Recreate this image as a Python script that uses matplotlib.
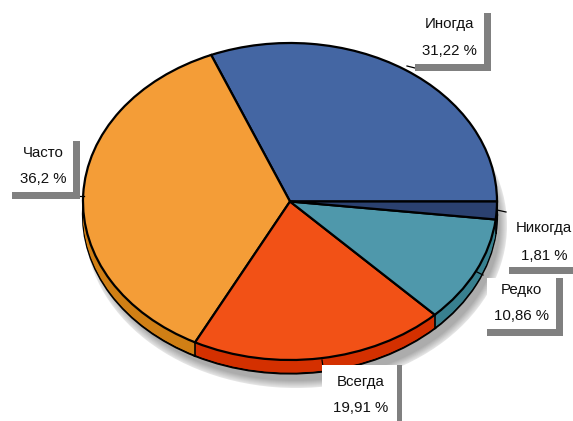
import matplotlib
matplotlib.use('Agg')
import matplotlib.pyplot as plt
from matplotlib.patches import Ellipse, Rectangle
import numpy as np

categories = ['Иногда', 'Часто', 'Всегда', 'Редко', 'Никогда']
values = [31.22, 36.2, 19.91, 10.86, 1.81]
top_colors = ['#4466A3', '#F49D37', '#F25116', '#4F98AB', '#2B4170']
side_colors = ['#2F4A80', '#D07F15', '#D43000', '#38808F', '#1F3058']

plt.rcParams['font.family'] = ['Liberation Sans Narrow', 'Liberation Sans', 'DejaVu Sans']

W, H = 573, 421
cx, cy, rx, ry = 290, 201.5, 207, 158.5
depth = 13.5 / ry

fig = plt.figure(figsize=(W / 100, H / 100), dpi=100)
ax = fig.add_axes([0, 0, 1, 1])

# тень под диаграммой: от светлого края к тёмной середине
for grow, col in zip([4, 3, 2, 1, 0, -1, -2, -3],
                     ['#E4E4E4', '#DCDCDC', '#D4D4D4', '#CCCCCC', '#C4C4C4', '#BCBCBC', '#B4B4B4', '#ACACAC']):
    ax.add_patch(Ellipse((6 / rx, -24 / ry), 2 + grow * 2 / rx, 2 + grow * 2 / ry,
                         fc=col, ec='none', zorder=0))

# боковая стенка: стопка смещённых кругов
for i, off in enumerate(np.linspace(depth, 0, 15)[:-1]):
    props = {'edgecolor': 'black', 'linewidth': 1.6} if i == 0 else {'edgecolor': 'none'}
    ax.pie(values, colors=side_colors, center=(0, -off), radius=1, startangle=0,
           counterclock=True, wedgeprops=props, frame=True)

ax.pie(values, colors=top_colors, center=(0, 0), radius=1, startangle=0,
       wedgeprops={'edgecolor': 'black', 'linewidth': 1.6}, frame=True)

# вертикальные рёбра на границах секторов
angles = np.cumsum(values) / 100 * 2 * np.pi
for a in angles:
    if np.sin(a) < -1e-6:
        x = np.cos(a)
        y = np.sin(a)
        ax.plot([x, x], [y, y - depth], color='black', lw=1.2, zorder=5)

ax.set_aspect('auto')
ax.set_xlim(-cx / rx, (W - cx) / rx)
ax.set_ylim((cy - H) / ry, cy / ry)
ax.axis('off')

# подписи в пиксельных координатах
ov = fig.add_axes([0, 0, 1, 1])
ov.set_xlim(0, W)
ov.set_ylim(H, 0)
ov.axis('off')
ov.patch.set_alpha(0)

GRAY = '#808080'
leaders = [((407, 66), (415, 68)), ((76, 196), (84, 196)), ((322, 360), (323, 367)),
           ((477, 272), (483, 275)), ((497, 210), (506, 212))]
for p, q in leaders:
    ov.plot([p[0], q[0]], [p[1], q[1]], color='black', lw=0.9)

# left, top, right, bottom белой плашки; центр текста по x, две строки по y
boxes = {
    'Иногда': (415, 13, 484, 64, 449, 24, 51),
    'Часто': (12, 141, 73, 192, 43, 153, 179),
    'Всегда': (322, 365, 397, 421, 361, 382, 408),
    'Редко': (487, 278, 556, 329, 521, 290, 316),
    'Никогда': (509, 216, 573, 267, 544, 228, 256),
}
for name, val in zip(categories, values):
    l, t, r, b, tx, y1, y2 = boxes[name]
    ov.add_patch(Rectangle((l, t), r - l, b - t, fc='white', ec='none', zorder=2))
    if name != 'Никогда':
        ov.add_patch(Rectangle((r, t), 7 if name != 'Всегда' else 5, H - t if name == 'Всегда' else b - t + 7,
                               fc=GRAY, ec='none', zorder=2))
    if name != 'Всегда':
        ov.add_patch(Rectangle((l, b), r - l + (7 if name != 'Никогда' else 0), 7,
                               fc=GRAY, ec='none', zorder=2))
    pct = f'{val:g}'.replace('.', ',') + ' %'
    ov.text(tx, y1, name, ha='center', va='center', fontsize=10.8, color='#111111', zorder=3)
    ov.text(tx, y2, pct, ha='center', va='center', fontsize=10.8, color='#111111', zorder=3)

fig.savefig('out.png', dpi=100, facecolor='white')
